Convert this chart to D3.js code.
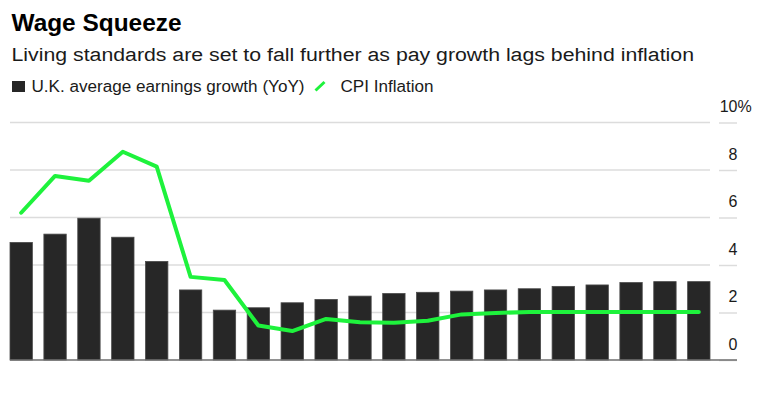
<!DOCTYPE html>
<html>
<head>
<meta charset="utf-8">
<script src="https://cdn.jsdelivr.net/npm/d3@7"></script>
<style>
body { margin: 0; background: #fff; }
text { font-family: "Liberation Sans", Arial, Helvetica, sans-serif; }
</style>
</head>
<body>
<svg width="763" height="393"></svg>
<script>
// one entry per period (no x labels shown on the chart)
const periods = ["1","2","3","4","5","6","7","8","9","10","11","12","13","14","15","16","17","18","19","20","21"];
const earnings = [4.95, 5.3, 5.97, 5.17, 4.15, 2.95, 2.1, 2.2, 2.41, 2.55, 2.69, 2.8, 2.85, 2.9, 2.95, 3.0, 3.1, 3.16, 3.26, 3.3, 3.3];
const cpi = [6.2, 7.75, 7.55, 8.77, 8.14, 3.5, 3.37, 1.45, 1.22, 1.73, 1.59, 1.57, 1.65, 1.92, 1.98, 2.02, 2.02, 2.02, 2.02, 2.02, 2.02];
const yTicks = [0, 2, 4, 6, 8, 10];

const green = "#1ef23c";
const svg = d3.select("svg");

const x = d3.scaleBand().domain(periods).range([10, 710]).paddingInner(0.34).paddingOuter(0);
const y = d3.scaleLinear().domain([0, 10]).range([360, 122.5]);

// title block
svg.append("text")
  .attr("x", 11.5).attr("y", 31)
  .attr("textLength", 170).attr("lengthAdjust", "spacingAndGlyphs")
  .style("font-size", "23px").style("font-weight", "bold").attr("fill", "#000")
  .text("Wage Squeeze");

svg.append("text")
  .attr("x", 11.5).attr("y", 61)
  .attr("textLength", 682.5).attr("lengthAdjust", "spacingAndGlyphs")
  .style("font-size", "18px").attr("fill", "#1a1a1a")
  .text("Living standards are set to fall further as pay growth lags behind inflation");

// legend
svg.append("rect").attr("x", 12).attr("y", 81).attr("width", 13).attr("height", 11).attr("fill", "#262626");
svg.append("text")
  .attr("x", 31.5).attr("y", 91.5)
  .attr("textLength", 273).attr("lengthAdjust", "spacingAndGlyphs")
  .style("font-size", "16px").attr("fill", "#1a1a1a")
  .text("U.K. average earnings growth (YoY)");
svg.append("line")
  .attr("x1", 315.5).attr("y1", 90.5).attr("x2", 324.5).attr("y2", 82)
  .attr("stroke", green).attr("stroke-width", 3);
svg.append("text")
  .attr("x", 340.5).attr("y", 91.5)
  .attr("textLength", 93).attr("lengthAdjust", "spacingAndGlyphs")
  .style("font-size", "16px").attr("fill", "#1a1a1a")
  .text("CPI Inflation");

// gridlines
svg.append("g")
  .selectAll("line")
  .data(yTicks.filter(d => d > 0))
  .enter()
  .append("line")
  .attr("x1", 10).attr("x2", 710)
  .attr("y1", d => y(d)).attr("y2", d => y(d))
  .attr("stroke", "#dcdcdc").attr("stroke-width", 1.5);

// right axis: short ticks + labels
const axis = svg.append("g")
  .attr("transform", "translate(719,0)")
  .call(d3.axisRight(y).tickValues(yTicks).tickSize(18).tickFormat(d => d));
axis.select(".domain").remove();
axis.selectAll(".tick line").attr("stroke", "#dcdcdc").attr("stroke-width", 1.5);
axis.selectAll(".tick text")
  .attr("x", 18.5).attr("dy", null).attr("y", -11)
  .attr("text-anchor", "end")
  .style("font-size", "16px").attr("fill", "#1a1a1a");
axis.selectAll(".tick").filter(d => d === 10)
  .append("text")
  .attr("x", 18.5).attr("y", -11)
  .attr("text-anchor", "start")
  .style("font-size", "16px").attr("fill", "#1a1a1a")
  .text("%");

// bars
svg.append("g")
  .selectAll("rect")
  .data(earnings)
  .enter()
  .append("rect")
  .attr("x", (d, i) => x(periods[i]))
  .attr("y", d => y(d))
  .attr("width", x.bandwidth())
  .attr("height", d => y(0) - y(d))
  .attr("fill", "#272727")
  .attr("stroke", "#4a4a4a")
  .attr("stroke-width", 0.8);

// baseline
svg.append("line")
  .attr("x1", 10).attr("x2", 737)
  .attr("y1", y(0)).attr("y2", y(0))
  .attr("stroke", "#6e6e6e").attr("stroke-width", 1.5);

// CPI line
const line = d3.line()
  .x((d, i) => x(periods[i]) + x.bandwidth() / 2)
  .y(d => y(d));

svg.append("path")
  .datum(cpi)
  .attr("d", line)
  .attr("fill", "none")
  .attr("stroke", green)
  .attr("stroke-width", 4)
  .attr("stroke-linejoin", "round")
  .attr("stroke-linecap", "round");
</script>
</body>
</html>
